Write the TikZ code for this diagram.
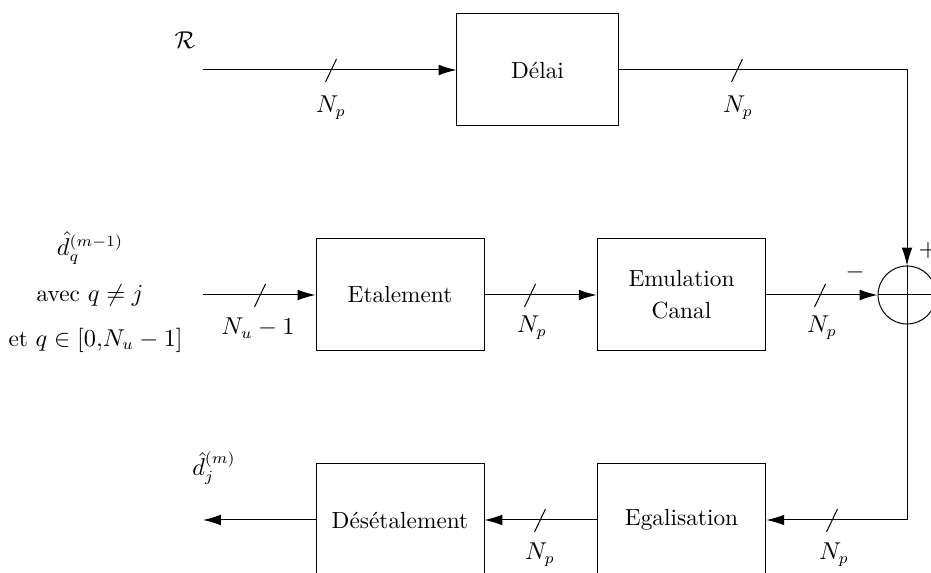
\documentclass[tikz,border=0pt]{standalone}
\usetikzlibrary{arrows.meta}
\begin{document}
\begin{tikzpicture}[x=0.45pt,y=-0.45pt,
  line width=0.45pt,
  every node/.style={font=\fontsize{10.5}{12.5}\selectfont},
  blk/.style={draw, rectangle, inner sep=0pt},
  arr/.style={-{Latex[length=8pt,width=4.8pt]}},
  sumc/.style={draw, circle, minimum size=26.1pt, inner sep=0pt},
  lbl/.style={inner sep=0pt}]
\clip (0,0) rectangle (931,573);
% boxes
\node[blk, minimum width=72.5pt, minimum height=50.4pt] (delai) at (537.5,70) {D\'elai};
\node[blk, minimum width=75.6pt, minimum height=50.4pt] (etal) at (400,295) {Etalement};
\node[blk, minimum width=76pt, minimum height=50.4pt, align=center] (emul) at (681.5,295) {Emulation\\[2pt]Canal};
\node[blk, minimum width=76pt, minimum height=50.4pt] (egal) at (681.5,520) {Egalisation};
\node[blk, minimum width=75.6pt, minimum height=50.4pt] (deset) at (400,520) {D\'es\'etalement};
\node[sumc] (sum) at (907,295) {};
% coordinates
\coordinate (inR) at (203,70);
\coordinate (cR) at (907,70);
\coordinate (inD) at (203,295);
\coordinate (cB) at (907,520);
\coordinate (out) at (203,520);
\coordinate (sumR) at (940,295);
% connectors
\draw[arr] (inR) -- (delai.west);
\draw[arr] (delai.east) -- (cR) -- (sum.north);
\draw[arr] (inD) -- (etal.west);
\draw[arr] (etal.east) -- (emul.west);
\draw[arr] (emul.east) -- (sum.west);
\draw (sum.west) -- (sumR);
\draw (sum.north) -- (sum.south);
\draw[arr] (sum.south) -- (cB) -- (egal.east);
\draw[arr] (egal.west) -- (deset.east);
\draw[arr] (deset.west) -- (out);
% slashes
\foreach \x/\y in {331/70, 737/70, 260/295, 530/295, 820/295, 540/520, 832/520}
  \draw (\x-5.5,\y+12) -- (\x+5.5,\y-11);
% labels
\node[lbl] at (185,40) {$\mathcal{R}$};
\node[lbl] at (331,108) {$N_p$};
\node[lbl] at (738,108) {$N_p$};
\node[lbl] at (90,248) {$\hat{d}_q^{(m-1)}$};
\node[lbl] at (90,295) {avec $q\neq j$};
\node[lbl, anchor=west] at (8,340) {et $q\in[0{,}N_u-1]$};
\node[lbl] at (258,328) {$N_u-1$};
\node[lbl] at (532,328) {$N_p$};
\node[lbl] at (822,328) {$N_p$};
\node[lbl] at (855,272) {$-$};
\node[lbl] at (928,250) {$+$};
\node[lbl] at (540,555) {$N_p$};
\node[lbl] at (834,555) {$N_p$};
\node[lbl] at (214,468) {$\hat{d}_j^{(m)}$};
\end{tikzpicture}
\end{document}
